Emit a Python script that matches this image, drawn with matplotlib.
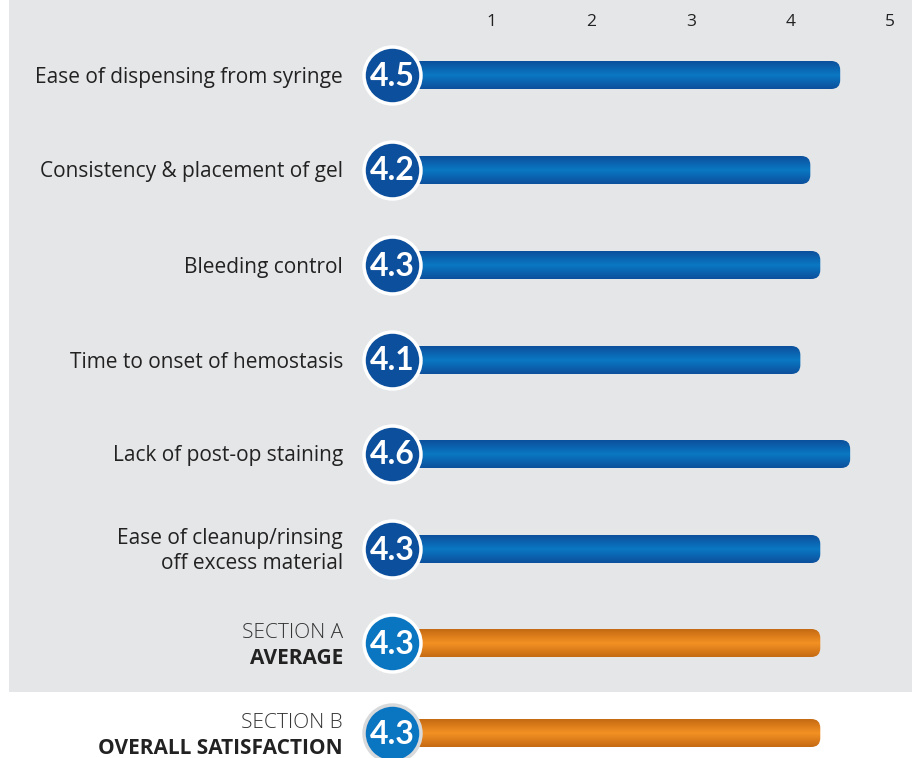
import matplotlib.pyplot as plt
import numpy as np
from matplotlib.patches import FancyBboxPatch, Rectangle
from matplotlib.colors import LinearSegmentedColormap

# data
labels = ['Ease of dispensing from syringe', 'Consistency & placement of gel', 'Bleeding control',
          'Time to onset of hemostasis', 'Lack of post-op staining',
          'Ease of cleanup/rinsing\noff excess material']
scores = [4.5, 4.2, 4.3, 4.1, 4.6, 4.3]
section_titles = ['SECTION A', 'SECTION B']
section_names = ['AVERAGE', 'OVERALL SATISFACTION']
section_scores = [4.3, 4.3]
ticks = [1, 2, 3, 4, 5]

W, H = 915, 758
x0_px, unit_px = 392, 99.6   # pixel of value 0, pixels per unit
row_y = [75, 170, 265, 360, 454, 549, 643, 733]

plt.rcParams['font.family'] = ['Open Sans', 'DejaVu Sans']

fig = plt.figure(figsize=(W / 100, H / 100), dpi=100)
ax = fig.add_axes([0, 0, 1, 1])
ax.set_xlim(-x0_px / unit_px, (W - x0_px) / unit_px)
ax.set_ylim(H, 0)
ax.axis('off')

# gray panel
ax.add_patch(Rectangle((9 / W, 1 - 692 / H), 903 / W, 692 / H, transform=ax.transAxes,
                       facecolor='#e5e6e8', edgecolor='none', zorder=0))

blue_cmap = LinearSegmentedColormap.from_list('b', ['#0c4f9c', '#0a78c3', '#0c4f9c'])
orange_cmap = LinearSegmentedColormap.from_list('o', ['#c56a14', '#f39123', '#c56a14'])
grad = np.linspace(0, 1, 100).reshape(-1, 1)

bar_h = 28
def draw_bar(y, val, cmap):
    patch = FancyBboxPatch((0, y - bar_h / 2), val, bar_h,
                           boxstyle='round,pad=0,rounding_size=%f' % (9 / unit_px),
                           mutation_aspect=unit_px, facecolor='none', edgecolor='none')
    ax.add_patch(patch)
    im = ax.imshow(grad, cmap=cmap, aspect='auto', extent=[0, val, y + bar_h / 2, y - bar_h / 2],
                   zorder=2, interpolation='bilinear')
    im.set_clip_path(patch)

def draw_circle(y, val, face, ring):
    ax.scatter([0], [y], s=41 ** 2, c=face, edgecolors=ring, linewidths=2.5, zorder=3)
    ax.text(0, y + 1, '%.1f' % val, color='white', fontsize=23, fontweight='bold',
            ha='center', va='center', zorder=4, family=['Lato', 'DejaVu Sans'])

lab_x = -49 / unit_px
for y, lab, v in zip(row_y, labels, scores):
    draw_bar(y, v, blue_cmap)
    draw_circle(y, v, '#0c4f9c', 'white')
    ax.text(lab_x, y + 2, lab, ha='right', va='center', fontsize=15, color='#222222',
            linespacing=1.3)

for i, (t, n, v) in enumerate(zip(section_titles, section_names, section_scores)):
    y = row_y[6 + i]
    draw_bar(y, v, orange_cmap)
    draw_circle(y, v, '#0a76c2', 'white' if i == 0 else '#d8d9db')
    ax.text(lab_x, y - 10, t, ha='right', va='center', fontsize=15, color='#333333',
            fontweight='light')
    ax.text(lab_x, y + 16, n, ha='right', va='center', fontsize=15, color='#222222',
            fontweight='bold')

for t in ticks:
    ax.text(t, 22, str(t), ha='center', va='center', fontsize=12.5, color='#222222')

fig.savefig('out.png', dpi=100)
